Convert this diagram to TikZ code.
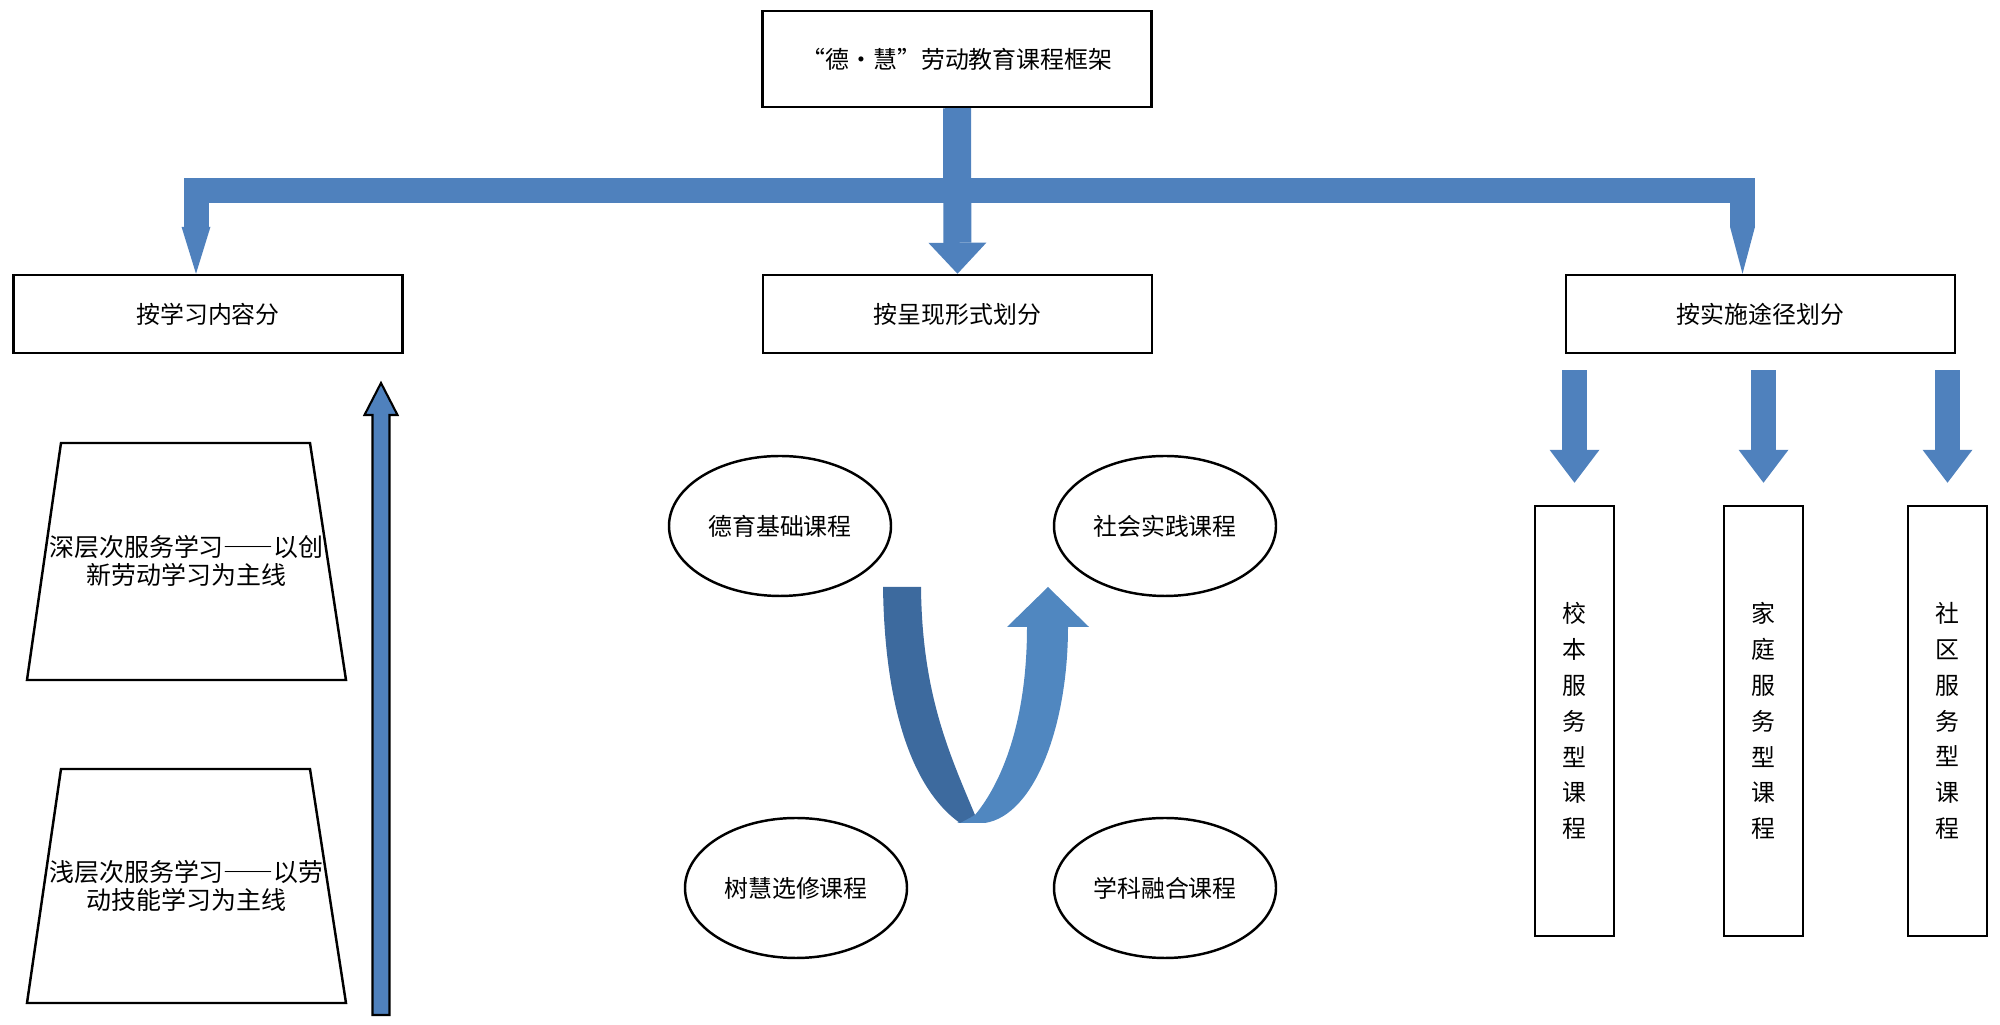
\documentclass[tikz,border=0pt]{standalone}
\usepackage{fontspec}
\usepackage{tikz}
\newfontfamily\cjk[RawFeature=+fwid]{Noto Sans CJK SC}
\usetikzlibrary{
    arrows.meta,
    shapes.geometric
}
\tikzset{
  box/.style   = {draw, line width=0.7pt, minimum width=3.89cm,
                  minimum height=0.78cm, inner sep=0pt,
                  font=\cjk\fontsize{6.8pt}{8pt}\selectfont},
  oval/.style  = {draw, ellipse, line width=0.7pt, minimum width=2.22cm,
                  minimum height=1.40cm, inner sep=0pt,
                  font=\cjk\fontsize{6.8pt}{8pt}\selectfont},
  vbox/.style  = {draw, line width=0.7pt, minimum width=0.79cm,
                  minimum height=4.30cm, inner sep=0pt, align=center,
                  font=\cjk\fontsize{6.8pt}{10.2pt}\selectfont},
  trap/.style  = {draw, line width=0.7pt},
  ttext/.style = {align=center, inner sep=0pt,
                  font=\cjk\fontsize{7.1pt}{8pt}\selectfont},
  fat/.style   = {LinkBlue, line width=0.28cm,
                  -{Triangle[width=0.58cm,length=0.31cm,line width=0pt]}},
  bar/.style   = {LinkBlue, line width=0.25cm, line join=miter,
                  {Triangle[width=0.29cm,length=0.47cm,line width=0pt]}-{Triangle[width=0.25cm,length=0.47cm,line width=0pt]}},
  drop/.style  = {LinkBlue, line width=0.25cm,
                  -{Triangle[width=0.50cm,length=0.33cm,line width=0pt]},
                  shorten <=0.16cm, shorten >=0.22cm}
}
\definecolor{LinkBlue}{RGB}{79,129,189}
\definecolor{BackBlue}{RGB}{61,106,158}
\definecolor{FrontBlue}{RGB}{80,135,192}

\begin{document}
\begin{tikzpicture}
\useasboundingbox (0,0) rectangle (20,10.25);
% top and second level
\node[box, minimum height=0.96cm] (frame) at (9.57,9.66) {“德·慧”劳动教育课程框架};
\node[box] (learn) at (2.08,7.11) {按学习内容分};
\node[box] (form) at (9.575,7.11) {按呈现形式划分};
\node[box] (way) at (17.605,7.11) {按实施途径划分};
\coordinate (hub) at (9.575,8.345);
\draw[bar] ([xshift=-0.12cm]learn.north) |- (hub) -| ([xshift=-0.18cm]way.north);
\draw[fat] (frame.south) -- (form.north);
% by content
\draw[trap] (0.27,3.45) -- (0.61,5.82) -- (3.10,5.82) -- (3.46,3.45) -- cycle;
\draw[trap] (0.27,0.22) -- (0.61,2.56) -- (3.10,2.56) -- (3.46,0.22) -- cycle;
\node[ttext] (deep) at (1.865,4.64) {深层次服务学习——以创\\新劳动学习为主线};
\node[ttext] (shallow) at (1.865,1.39) {浅层次服务学习——以劳\\动技能学习为主线};
\filldraw[fill=LinkBlue, draw=black, line width=0.6pt]
  (3.725,0.10) -- (3.725,6.10) -- (3.645,6.10) -- (3.81,6.42)
  -- (3.975,6.10) -- (3.895,6.10) -- (3.895,0.10) -- cycle;
% by form
\node[oval] (moral) at (7.80,4.99) {德育基础课程};
\node[oval] (social) at (11.65,4.99) {社会实践课程};
\node[oval] (tree) at (7.96,1.37) {树慧选修课程};
\node[oval] (subject) at (11.65,1.37) {学科融合课程};
\fill[FrontBlue] (9.57,2.02) -- (9.85,2.02)
  .. controls (10.35,2.10) and (10.68,3.00) .. (10.68,3.98)
  -- (10.89,3.98) -- (10.48,4.38) -- (10.07,3.98) -- (10.27,3.98)
  .. controls (10.27,3.00) and (10.00,2.40) .. (9.75,2.10) -- cycle;
\fill[BackBlue] (8.83,4.38) -- (9.21,4.38)
  .. controls (9.22,3.30) and (9.50,2.70) .. (9.75,2.10) -- (9.60,2.02)
  .. controls (9.20,2.30) and (8.85,3.00) .. (8.83,4.38) -- cycle;
% by way
\node[vbox] (school) at (15.745,3.04) {校\\本\\服\\务\\型\\课\\程};
\node[vbox] (home) at (17.635,3.04) {家\\庭\\服\\务\\型\\课\\程};
\node[vbox] (community) at (19.475,3.04) {社\\区\\服\\务\\型\\课\\程};
\foreach \v in {school,home,community}
  \draw[drop] (way.south -| \v.north) -- (\v.north);
\end{tikzpicture}
\end{document}
